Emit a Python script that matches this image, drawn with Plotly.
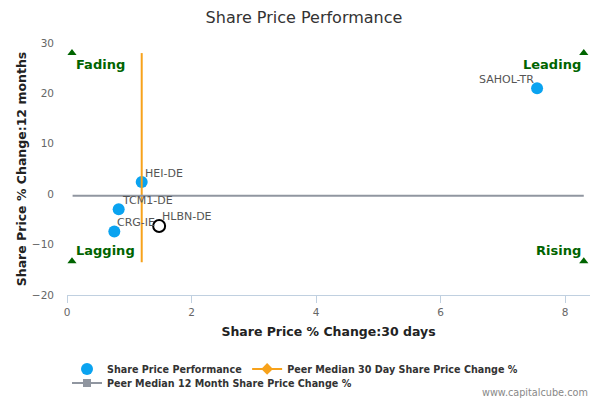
import plotly.graph_objects as go

# peers: 30 day change (x) and 12 month change (y)
tickers = ["HEI-DE", "TCM1-DE", "CRG-IE", "SAHOL-TR"]
chg_30d = [1.2, 0.83, 0.76, 7.55]
chg_12m = [2.4, -3.0, -7.4, 21.0]

# the company itself (open circle)
own_ticker = "HLBN-DE"
own_30d = 1.48
own_12m = -6.3

# peer medians
median_30d = 1.2
median_12m = -0.3
median_30d_span = [28, -13.5]
median_12m_span = [0.09, 8.3]

# quadrant markers
quad_names = ["Fading", "Leading", "Lagging", "Rising"]
quad_x = [0.08, 8.3, 0.08, 8.3]
quad_y = [28, 28, -13.3, -13.3]

font = "DejaVu Sans"
green = "#006400"
orange = "#f7a21b"
grey = "#9096a0"

fig = go.Figure()

fig.add_trace(go.Scatter(
    x=chg_30d, y=chg_12m, mode="markers",
    marker=dict(size=12, color="#0aa3f0"),
    name="<b>Share Price Performance</b>", legend="legend",
))
fig.add_trace(go.Scatter(
    x=[median_30d, median_30d], y=median_30d_span, mode="lines",
    line=dict(color=orange, width=2), showlegend=False,
))
fig.add_trace(go.Scatter(
    x=median_12m_span, y=[median_12m, median_12m], mode="lines",
    line=dict(color=grey, width=2), showlegend=False,
))
fig.add_trace(go.Scatter(
    x=[own_30d], y=[own_12m], mode="markers",
    marker=dict(size=12, color="white", line=dict(color="black", width=2)),
    showlegend=False,
))
fig.add_trace(go.Scatter(
    x=quad_x, y=quad_y, mode="markers",
    marker=dict(symbol="triangle-up", size=8, color=green),
    showlegend=False, hoverinfo="skip", cliponaxis=False,
))

# legend entries for the two median lines
fig.add_trace(go.Scatter(
    x=[None], y=[None], mode="lines+markers",
    line=dict(color=orange, width=2), marker=dict(symbol="diamond", size=9, color=orange),
    name="<b>Peer Median 30 Day Share Price Change %</b>", legend="legend",
))
fig.add_trace(go.Scatter(
    x=[None], y=[None], mode="lines+markers",
    line=dict(color=grey, width=2), marker=dict(symbol="square", size=8, color=grey),
    name="<b>Peer Median 12 Month Share Price Change %</b>", legend="legend2",
))

# point labels
for name, px_, py_ in zip(tickers + [own_ticker], chg_30d + [own_30d], chg_12m + [own_12m]):
    right = px_ < 4
    fig.add_annotation(
        x=px_, y=py_, text=name, showarrow=False,
        xanchor="left" if right else "right", yanchor="middle",
        xshift=1 if right else -1, yshift=9,
        font=dict(size=11, color="#555555", family=font),
    )

for name, qx, qy in zip(quad_names, quad_x, quad_y):
    left = qx < 4
    top = qy > 0
    fig.add_annotation(
        x=qx, y=qy, text="<b>" + name + "</b>", showarrow=False,
        xanchor="left" if left else "right",
        yanchor="top" if top else "bottom",
        xshift=2 if left else -1, yshift=-2 if top else 1,
        font=dict(size=13, color=green, family=font),
    )

fig.add_annotation(
    x=1, y=0, xref="paper", yref="paper", yshift=-90, xshift=0,
    text="www.capitalcube.com", showarrow=False, xanchor="right", yanchor="top",
    font=dict(size=9.7, color="#888888", family=font),
)

legend_font = dict(size=9.6, color="#333333")

fig.update_layout(
    width=592, height=392,
    margin=dict(l=59, r=10, t=35, b=105, autoexpand=False),
    paper_bgcolor="white", plot_bgcolor="white",
    font=dict(family=font, color="#666666", size=10.5),
    title=dict(text="Share Price Performance", x=0.5, xanchor="center", y=0.975,
               yanchor="middle", font=dict(size=16, color="#333333")),
    xaxis=dict(range=[0, 8.4], dtick=2, showgrid=False, zeroline=False,
               showline=True, linecolor="#c0d0e0", ticks="outside", tickcolor="#c0d0e0",
               ticklen=7, automargin=False,
               title=dict(text="<b>Share Price % Change:30 days</b>",
                          font=dict(size=12.5, color="#222222"), standoff=10)),
    yaxis=dict(range=[-20, 30], dtick=10, showgrid=False, zeroline=False,
               showline=False, automargin=False, ticklabelstandoff=12,
               title=dict(text="<b>Share Price % Change:12 months</b>",
                          font=dict(size=12.5, color="#222222"), standoff=2)),
    legend=dict(orientation="h", x=0, y=-0.236, xanchor="left", yanchor="top",
                font=legend_font, bgcolor="rgba(0,0,0,0)"),
    legend2=dict(orientation="h", x=0, y=-0.292, xanchor="left", yanchor="top",
                 font=legend_font, bgcolor="rgba(0,0,0,0)"),
)

fig.write_html("out.html")
